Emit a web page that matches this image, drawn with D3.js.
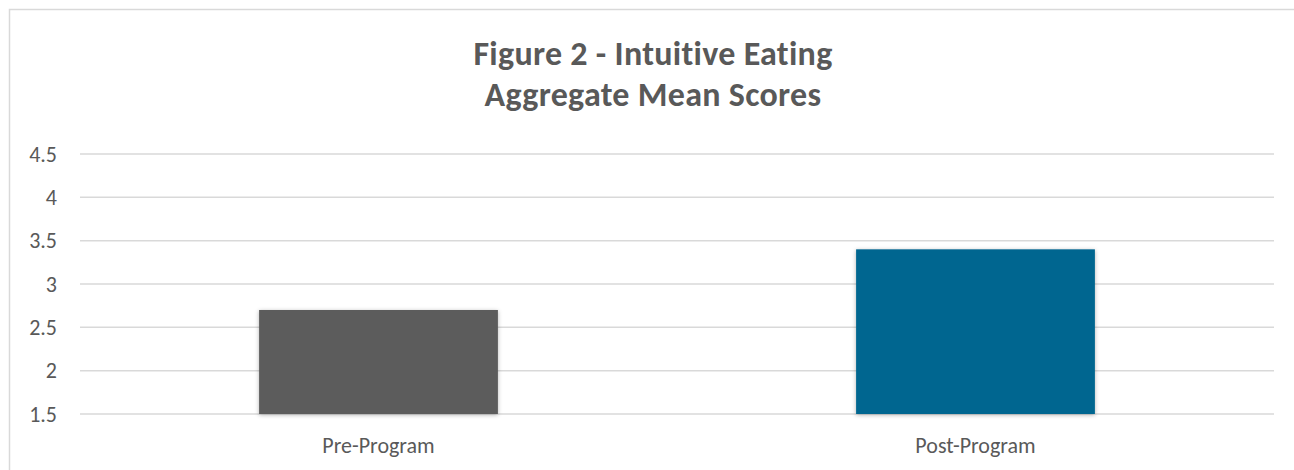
<!DOCTYPE html>
<html>
<meta charset="utf-8">
<title>Figure 2 - Intuitive Eating</title>
<style>
	body { margin: 0; background-color: #ffffff; }
	svg text { font-family: Calibri, Carlito, Lato, sans-serif; fill: #595959; }
	.title { font-size: 34px; font-weight: bold; letter-spacing: 0.3px; }
	.y.axis .tick text { font-size: 22px; }
	.x.axis .tick text { font-size: 22px; }
</style>
<body>
	<div id="chart"></div>
</body>
<script src="https://cdn.jsdelivr.net/npm/d3@7"></script>
<script>

	// Data
	var categories = ["Pre-Program", "Post-Program"];
	var scores = [2.7, 3.4];
	var barColors = ["#5b5b5b", "#006690"];
	var yTicks = [1.5, 2, 2.5, 3, 3.5, 4, 4.5];
	var titleLines = ["Figure 2 - Intuitive Eating", "Aggregate Mean Scores"];

	var W = 1294, H = 470;
	var margin = { top: 154, right: 20, bottom: 56, left: 80 },
		width = W - margin.left - margin.right,
		height = H - margin.top - margin.bottom;

	var root = d3.select("#chart").append("svg")
		.attr("width", W)
		.attr("height", H);

	// soft shadow under the bars
	var f = root.append("defs").append("filter").attr("id", "shadow")
		.attr("x", "-5%").attr("y", "-5%").attr("width", "110%").attr("height", "115%");
	f.append("feDropShadow").attr("dx", 0).attr("dy", 1).attr("stdDeviation", 2)
		.attr("flood-color", "#000").attr("flood-opacity", 0.3);

	// outer chart border (runs off the right and bottom edges)
	root.append("rect")
		.attr("x", 9.5).attr("y", 9.5)
		.attr("width", W + 20).attr("height", H + 20)
		.attr("fill", "none").attr("stroke", "#d9d9d9").attr("stroke-width", 1.5);

	// title
	root.append("text")
		.attr("class", "title")
		.attr("text-anchor", "middle")
		.selectAll("tspan")
		.data(titleLines).enter().append("tspan")
		.attr("x", 653)
		.attr("y", function (d, i) { return 65 + i * 41; })
		.text(function (d) { return d; });

	var svg = root.append("g")
		.attr("transform", "translate(" + margin.left + "," + margin.top + ")");

	var x = d3.scaleBand().domain(categories).range([0, width])
		.paddingInner(0.6).paddingOuter(0.3);
	var y = d3.scaleLinear().domain([1.5, 4.5]).range([height, 0]);

	// gridlines
	svg.append("g").selectAll("line")
		.data(yTicks).enter().append("line")
		.attr("x1", 0).attr("x2", width)
		.attr("y1", function (d) { return y(d); })
		.attr("y2", function (d) { return y(d); })
		.attr("stroke", "#d9d9d9").attr("stroke-width", 1.5);

	// y axis labels
	var yAxis = d3.axisLeft(y).tickValues(yTicks).tickSize(0).tickPadding(23)
		.tickFormat(function (d) { return String(d); });
	svg.append("g").attr("class", "y axis").call(yAxis)
		.call(function (g) { g.select(".domain").remove(); });

	// bars
	svg.append("g").selectAll("rect")
		.data(scores).enter().append("rect")
		.attr("x", function (d, i) { return x(categories[i]); })
		.attr("y", function (d) { return y(d); })
		.attr("width", x.bandwidth())
		.attr("height", function (d) { return y(1.5) - y(d); })
		.attr("fill", function (d, i) { return barColors[i]; })
		.attr("filter", "url(#shadow)");

	// x axis labels
	var xAxis = d3.axisBottom(x).tickSize(0).tickPadding(23);
	svg.append("g").attr("class", "x axis").attr("transform", "translate(0," + height + ")").call(xAxis)
		.call(function (g) { g.select(".domain").remove(); });

	svg.selectAll(".tick text").attr("fill", "#595959");

</script>
</html>
